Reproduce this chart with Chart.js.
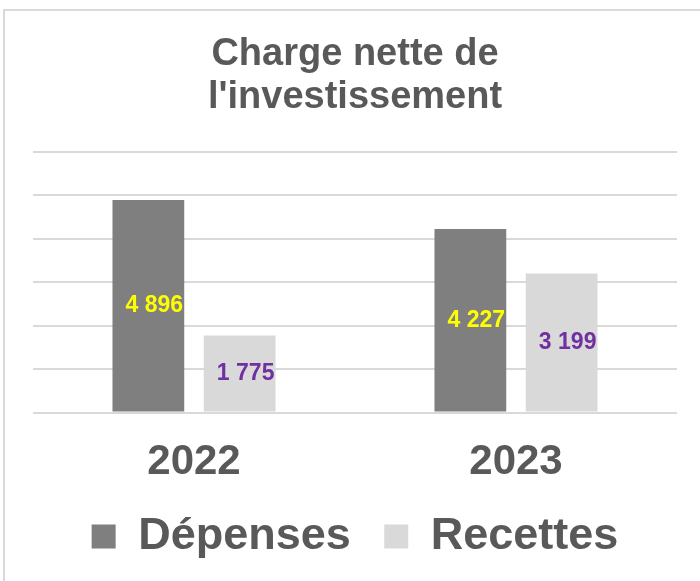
<!DOCTYPE html>
<html>
<head>
<meta charset="utf-8">
<title>Charge nette de l'investissement</title>
<script src="https://cdn.jsdelivr.net/npm/chart.js@4"></script>
<style>
    html, body {
        margin: 0;
        padding: 0;
        background: #ffffff;
    }
    #wrap {
        position: relative;
        width: 700px;
        height: 581px;
        overflow: hidden;
    }
    #frame {
        position: absolute;
        left: 3px;
        top: 9px;
        width: 720px;
        height: 600px;
        border-left: 2px solid #d9d9d9;
        border-top: 2px solid #d9d9d9;
    }
    #chart-box {
        position: absolute;
        left: 0;
        top: 0;
        width: 700px;
        height: 581px;
    }
</style>
</head>
<body>
<div id="wrap">
    <div id="frame"></div>
    <div id="chart-box"><canvas id="chart"></canvas></div>
</div>
<script>
const titleLines = ['Charge nette de', "l'investissement"]
const categories = ['2022', '2023']
const seriesNames = ['Dépenses', 'Recettes']
const depenses = [4896, 4227]
const recettes = [1775, 3199]
const yMax = 6000
const yStep = 1000

const FONT = "'Liberation Sans', Arial, sans-serif"
const TEXT_GREY = '#595959'

function formatNumber(value) {
    return String(value).replace(/\B(?=(\d{3})+(?!\d))/g, ' ')
}

// value labels written in the middle of each bar
const barLabels = {
    id: 'barLabels',
    afterDatasetsDraw(chart) {
        const ctx = chart.ctx
        ctx.save()
        ctx.font = 'bold 23px ' + FONT
        ctx.textAlign = 'center'
        ctx.textBaseline = 'middle'
        chart.data.datasets.forEach((dataset, i) => {
            const meta = chart.getDatasetMeta(i)
            meta.data.forEach((bar, j) => {
                ctx.fillStyle = dataset.labelColor
                ctx.fillText(formatNumber(dataset.data[j]), bar.x + 6, (bar.y + bar.base) / 2)
            })
        })
        ctx.restore()
    }
}

function buildChart() {
    const ctx = document.getElementById('chart')

    const data = {
        labels: categories,
        datasets: [{
            label: seriesNames[0],
            data: depenses,
            backgroundColor: '#7f7f7f',
            borderWidth: 0,
            labelColor: '#ffff00'
        }, {
            label: seriesNames[1],
            data: recettes,
            backgroundColor: '#d9d9d9',
            borderWidth: 0,
            labelColor: '#7030a0'
        }]
    }

    const config = {
        type: 'bar',
        data: data,
        options: {
            responsive: true,
            maintainAspectRatio: false,
            animation: false,
            devicePixelRatio: 1,
            categoryPercentage: 0.567,
            barPercentage: 0.786,
            layout: {
                padding: {top: 0, left: 33, right: 23, bottom: 12}
            },
            scales: {
                x: {
                    grid: {display: false, drawTicks: false},
                    border: {display: false},
                    ticks: {
                        color: TEXT_GREY,
                        padding: 25,
                        font: {family: FONT, size: 42, weight: 'bold'}
                    },
                    afterFit(axis) {
                        axis.height = 68
                    }
                },
                y: {
                    min: 0,
                    max: yMax,
                    ticks: {display: false, stepSize: yStep},
                    grid: {color: '#d9d9d9', lineWidth: 2, drawTicks: false},
                    border: {display: false}
                }
            },
            plugins: {
                title: {
                    display: true,
                    text: titleLines,
                    color: TEXT_GREY,
                    font: {family: FONT, size: 38, weight: 'bold', lineHeight: 43 / 38},
                    padding: {top: 33, bottom: 33}
                },
                legend: {
                    position: 'bottom',
                    labels: {
                        color: TEXT_GREY,
                        boxWidth: 24,
                        boxHeight: 24,
                        padding: 33.5,
                        font: {family: FONT, size: 45, weight: 'bold'}
                    }
                },
                tooltip: {enabled: false}
            }
        },
        plugins: [barLabels]
    }

    return new Chart(ctx, config)
}

buildChart()
</script>
</body>
</html>
